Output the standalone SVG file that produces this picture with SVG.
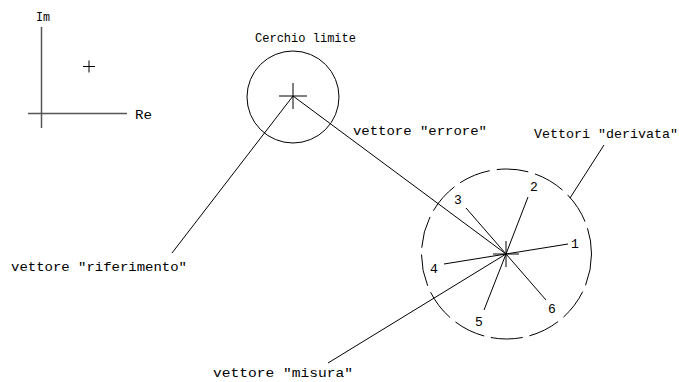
<svg xmlns="http://www.w3.org/2000/svg" width="679" height="382" viewBox="0 0 679 382">
<style>
.ln{stroke:#000;stroke-width:1;fill:none}
.ax{stroke:#555;stroke-width:1.5;fill:none}
text{font-family:"Liberation Mono","DejaVu Sans Mono",monospace;font-size:13px;fill:#000}
</style>
<rect width="679" height="382" fill="#fff"/>
<g id="axes">
<line class="ax" x1="41.5" y1="27" x2="41.5" y2="128"/>
<line class="ax" x1="28" y1="113.5" x2="127" y2="113.5"/>
<text x="36" y="21" textLength="14" lengthAdjust="spacingAndGlyphs">Im</text>
<text x="135" y="119" textLength="17" lengthAdjust="spacingAndGlyphs">Re</text>
<path class="ln" d="M83 66.5H95M89 60.5V72.5"/>
</g>
<g id="cerchio-limite">
<circle class="ln" cx="293" cy="97" r="46"/>
<path class="ln" d="M279 96H307M293 83V109"/>
<text x="255" y="42" textLength="101" lengthAdjust="spacingAndGlyphs">Cerchio limite</text>
</g>
<g id="cerchio-derivata">
<circle class="ln" cx="506.5" cy="254" r="85" stroke-dasharray="32 7"/>
<path class="ln" d="M493 254H519M506 241V267"/>
<text x="575" y="248" text-anchor="middle">1</text>
<text x="534" y="191" text-anchor="middle">2</text>
<text x="458" y="204" text-anchor="middle">3</text>
<text x="434" y="273" text-anchor="middle">4</text>
<text x="479" y="326" text-anchor="middle">5</text>
<text x="552" y="313" text-anchor="middle">6</text>
</g>
<g id="labels">
<text x="353" y="135" textLength="134" lengthAdjust="spacingAndGlyphs">vettore "errore"</text>
<text x="534" y="138" textLength="144" lengthAdjust="spacingAndGlyphs">Vettori "derivata"</text>
<text x="11" y="271" textLength="176" lengthAdjust="spacingAndGlyphs">vettore "riferimento"</text>
<text x="213" y="377" textLength="140" lengthAdjust="spacingAndGlyphs">vettore "misura"</text>
</g>
<g id="connectors">
<line class="ln" x1="293" y1="96" x2="172" y2="253"/>
<line class="ln" x1="293" y1="96" x2="506" y2="254"/>
<line class="ln" x1="506" y1="254" x2="328" y2="363"/>
<line class="ln" x1="570" y1="198" x2="604" y2="145"/>
<line class="ln" x1="506" y1="254" x2="568" y2="244"/>
<line class="ln" x1="506" y1="254" x2="528" y2="197"/>
<line class="ln" x1="506" y1="254" x2="466" y2="208"/>
<line class="ln" x1="506" y1="254" x2="444" y2="264"/>
<line class="ln" x1="506" y1="254" x2="484" y2="310"/>
<line class="ln" x1="506" y1="254" x2="546" y2="300"/>
</g>
</svg>
